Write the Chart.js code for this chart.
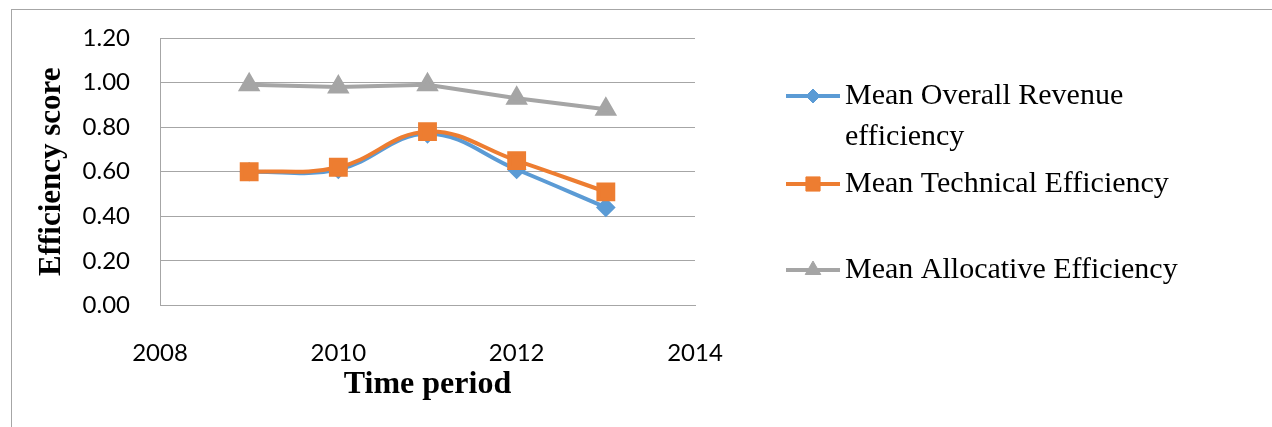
<!DOCTYPE html>
<html>
<head>
<meta charset="utf-8">
<script src="https://cdn.jsdelivr.net/npm/chart.js@4.4.1/dist/chart.umd.min.js"></script>
<style>
  html, body { margin: 0; padding: 0; background: #fff; overflow: hidden; }
  #frame { position: absolute; left: 11px; top: 9px; width: 1300px; height: 440px;
           border-left: 1.5px solid #a6a6a6; border-top: 1.5px solid #a6a6a6; }
  #wrap { position: absolute; left: 0; top: 0; width: 1272px; height: 427px; }
</style>
</head>
<body>
<div id="frame"></div>
<div id="wrap"><canvas id="chart" width="1272" height="427"></canvas></div>
<script>
// Years on the horizontal axis
const years = [2009, 2010, 2011, 2012, 2013];

// Mean efficiency scores per year
const overallRevenue = [0.60, 0.61, 0.77, 0.61, 0.44];
const technical      = [0.60, 0.62, 0.78, 0.65, 0.51];
const allocative     = [0.99, 0.98, 0.99, 0.93, 0.88];

// Series names as shown in the legend (line breaks where the legend wraps)
const seriesNames = [
  ['Mean Overall Revenue', 'efficiency'],
  ['Mean Technical Efficiency'],
  ['Mean Allocative Efficiency']
];

const yTicks = [0, 0.2, 0.4, 0.6, 0.8, 1.0, 1.2];
const xTicks = [2008, 2010, 2012, 2014];

const toPoints = vals => years.map((yr, i) => ({ x: yr, y: vals[i] }));

const BLUE = '#5b9bd5', ORANGE = '#ed7d31', GREY = '#a5a5a5';

// Legend drawn beside the plot, one block per series
const sideLegend = {
  id: 'sideLegend',
  afterDraw(chart, args, opts) {
    const ctx = chart.ctx;
    ctx.save();
    chart.data.datasets.forEach((ds, i) => {
      const rows = seriesNames[i];
      const y0 = opts.rowY[i];
      ctx.strokeStyle = ds.borderColor;
      ctx.lineWidth = ds.borderWidth;
      ctx.lineCap = 'butt';
      ctx.beginPath();
      ctx.moveTo(opts.lineX0, y0);
      ctx.lineTo(opts.lineX1, y0);
      ctx.stroke();
      ctx.fillStyle = ds.pointBackgroundColor;
      ctx.strokeStyle = ds.pointBorderColor;
      ctx.lineWidth = 1;
      Chart.helpers.drawPoint(ctx, {
        pointStyle: ds.pointStyle,
        radius: ds.legendRadius,
        rotation: 0,
        borderWidth: 1
      }, (opts.lineX0 + opts.lineX1) / 2, y0);
      ctx.fillStyle = '#000';
      ctx.font = opts.font;
      ctx.textBaseline = 'middle';
      ctx.textAlign = 'left';
      rows.forEach((t, k) => ctx.fillText(t, opts.textX, y0 + k * opts.lineGap));
    });
    ctx.restore();
  }
};

const chart = new Chart(document.getElementById('chart'), {
  type: 'line',
  data: {
    datasets: [
      {
        label: seriesNames[0].join(' '),
        data: toPoints(overallRevenue),
        borderColor: BLUE, backgroundColor: BLUE,
        pointBackgroundColor: BLUE, pointBorderColor: BLUE,
        borderWidth: 4, tension: 0.4,
        pointStyle: 'rectRot', pointRadius: 7, legendRadius: 7,
        order: 2
      },
      {
        label: seriesNames[1].join(' '),
        data: toPoints(technical),
        borderColor: ORANGE, backgroundColor: ORANGE,
        pointBackgroundColor: ORANGE, pointBorderColor: ORANGE,
        borderWidth: 4, tension: 0.4,
        pointStyle: 'rect', pointRadius: 10.5, legendRadius: 10,
        order: 1
      },
      {
        label: seriesNames[2].join(' '),
        data: toPoints(allocative),
        borderColor: GREY, backgroundColor: GREY,
        pointBackgroundColor: GREY, pointBorderColor: GREY,
        borderWidth: 4, tension: 0,
        pointStyle: 'triangle', pointRadius: 9, legendRadius: 9,
        order: 0
      }
    ]
  },
  options: {
    responsive: false,
    animation: false,
    events: [],
    layout: { padding: { left: 0, top: 38, right: 577, bottom: 0 } },
    plugins: {
      legend: { display: false },
      tooltip: { enabled: false },
      sideLegend: {
        lineX0: 786, lineX1: 840, textX: 845,
        rowY: [96, 184, 270], lineGap: 41,
        font: '30px "Liberation Serif"'
      }
    },
    scales: {
      x: {
        type: 'linear',
        min: 2008, max: 2014,
        afterBuildTicks: s => { s.ticks = xTicks.map(v => ({ value: v })); },
        afterFit: s => { s.height = 121.5; },
        grid: { display: false, drawTicks: false },
        border: { display: true, color: '#a6a6a6', width: 1 },
        ticks: {
          color: '#000', padding: 33, maxRotation: 0,
          font: { family: 'Lato', size: 24 },
          callback: v => String(v)
        },
        title: {
          display: true, text: 'Time period', color: '#000',
          font: { family: 'Liberation Serif', size: 32, weight: 'bold' },
          padding: { top: 0, bottom: 23 }
        }
      },
      y: {
        min: 0, max: 1.2,
        afterBuildTicks: s => { s.ticks = yTicks.map(v => ({ value: v })); },
        afterFit: s => { s.width = 160; s.paddingTop = 0; s.paddingBottom = 0; },
        grid: { color: '#a6a6a6', lineWidth: 1, drawTicks: false },
        border: { display: true, color: '#a6a6a6', width: 1 },
        ticks: {
          color: '#000', padding: 30,
          font: { family: 'Lato', size: 24 },
          callback: v => v.toFixed(2)
        },
        title: {
          display: true, text: 'Efficiency score', color: '#000',
          font: { family: 'Liberation Serif', size: 31, weight: 'bold' },
          padding: { top: 33, bottom: 0 }
        }
      }
    }
  },
  plugins: [sideLegend]
});
</script>
</body>
</html>
